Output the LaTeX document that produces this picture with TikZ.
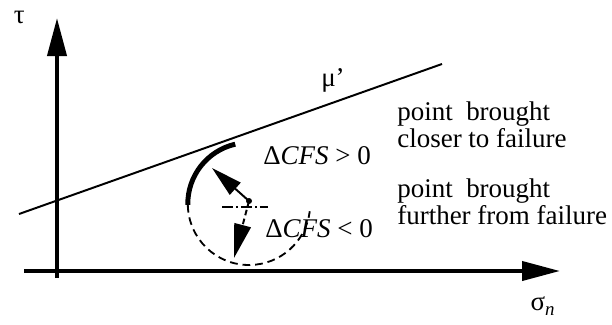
\documentclass[tikz,border=0pt]{standalone}
\usepackage{fontspec}
\setmainfont{Liberation Serif}
\usetikzlibrary{arrows.meta,positioning,calc}

\tikzset{
  axis/.style={line width=2.8pt, -{Triangle[length=0.95cm,width=0.475cm]}},
  txt/.style={inner sep=0pt, anchor=base west},
  dsh/.style={line width=1.3pt, dash pattern=on 5.5pt off 3.5pt},
}

\begin{document}
\begin{tikzpicture}[font=\fontsize{19.2}{17}\selectfont]
\useasboundingbox (-1.425,-1.325) rectangle (13.875,6.775);
% axes
\coordinate (xstart) at (-0.825,0);
\coordinate (xend) at (12.575,0);
\coordinate (ystart) at (0,-0.175);
\coordinate (yend) at (0,6.325);
\draw[axis] (xstart) -- (xend);
\draw[axis] (ystart) -- (yend);
\node (tau) at (-0.94,6.34) {τ};
\node (sigma) at (12.15,-0.875) {σ\textsubscript{\textit{n}}};
% failure line
\coordinate (fl0) at (-0.95,1.425);
\coordinate (fl1) at (9.625,5.175);
\draw[line width=1.4pt] (fl0) -- (fl1);
\node (mu) at (6.9,4.775) {μ’};
% stress circle
\coordinate (c) at (4.8,1.68);
\draw[line width=3.5pt] ([shift={(103:1.53)}]c) arc[start angle=103, end angle=181, radius=1.53];
\draw[dsh] ([shift={(181:1.53)}]c) arc[start angle=181, end angle=353, radius=1.53];
% point and its moves
\coordinate (pt) at (4.8,1.75);
\coordinate (dd0) at (4.125,1.6);
\coordinate (dd1) at (5.275,1.6);
\draw[line width=1.3pt, dash pattern=on 8pt off 2pt on 1.5pt off 2pt] (dd0) -- (dd1);
\coordinate (up) at (3.875,2.575);
\coordinate (down) at (4.425,0.325);
\draw[line width=1.4pt, -{Triangle[length=0.78cm,width=0.4cm]}] (pt) -- (up);
\draw[line width=1.4pt, dash pattern=on 4pt off 2.5pt, -{Triangle[length=0.85cm,width=0.42cm]}] (pt) -- (down);
\fill (pt) circle (0.075);
% labels
\node[txt] (gt) at (5.15,2.675) {Δ\textit{CFS} > 0};
\node[txt] (lt) at (5.2,0.84) {Δ\textit{CFS} < 0};
\node[txt, align=left] (closer) at (8.5,3.1) {point~~brought\\closer to failure};
\node[txt, align=left] (further) at (8.5,1.175) {point~~brought\\further from failure};
\end{tikzpicture}
\end{document}
